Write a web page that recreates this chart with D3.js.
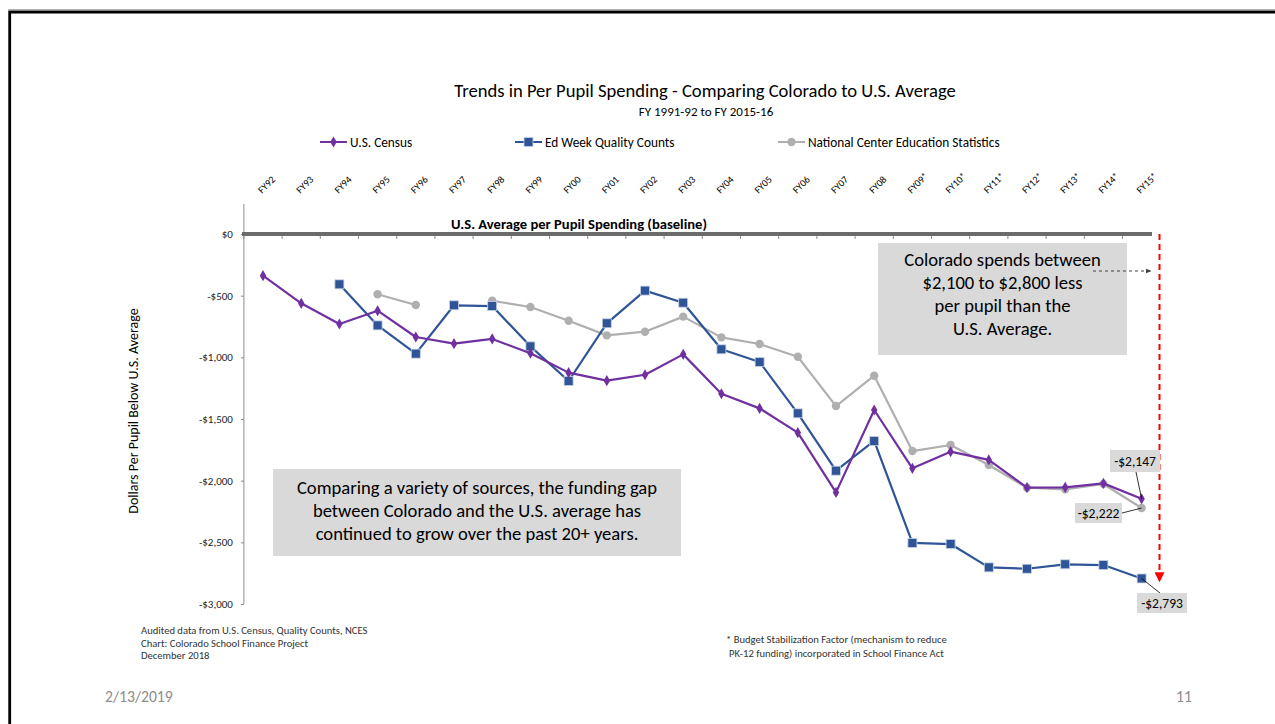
<!DOCTYPE html>
<html>
<head>
<meta charset="utf-8">
<script src="https://cdn.jsdelivr.net/npm/d3@7"></script>
<style>
  html, body { margin: 0; padding: 0; background: #fff; }
  svg { display: block; }
  text { font-family: Carlito, Calibri, Lato, "Open Sans", sans-serif; }
</style>
</head>
<body>
<svg id="chart" width="1275" height="724"></svg>
<script>
// Fiscal years (x categories)
const fiscalYears = ["FY92","FY93","FY94","FY95","FY96","FY97","FY98","FY99","FY00","FY01","FY02","FY03",
  "FY04","FY05","FY06","FY07","FY08","FY09*","FY10*","FY11*","FY12*","FY13*","FY14*","FY15*"];

// Colorado minus U.S. average, dollars per pupil
const censusGap = [-338,-562,-730,-622,-835,-889,-851,-967,-1124,-1189,-1141,-976,
  -1295,-1414,-1611,-2095,-1427,-1900,-1765,-1832,-2057,-2054,-2022,-2147];
const edWeekGap = [null,null,-408,-741,-970,-578,-584,-911,-1192,-724,-459,-557,
  -935,-1038,-1454,-1919,-1678,-2505,-2514,-2703,-2714,-2678,-2684,-2793];
const ncesGap = [null,null,null,-489,-576,null,-541,-592,-703,-822,-792,-670,
  -838,-892,-995,-1395,-1149,-1760,-1711,-1873,-2057,-2070,-2027,-2222];

const yTicks = [0,-500,-1000,-1500,-2000,-2500,-3000];

const seriesList = [
  { name: "U.S. Census", values: censusGap, color: "#7030A0", marker: "diamond" },
  { name: "Ed Week Quality Counts", values: edWeekGap, color: "#2F5597", marker: "square" },
  { name: "National Center Education Statistics", values: ncesGap, color: "#AFAFAF", marker: "circle" }
];

const svg = d3.select("#chart");

// slide frame
svg.append("line").attr("x1", 8).attr("x2", 1275).attr("y1", 9.5).attr("y2", 9.5)
  .attr("stroke", "#b5b5b5").attr("stroke-width", 1);
svg.append("path").attr("d", "M9.7,724 V12 H1275")
  .attr("fill", "none").attr("stroke", "#000").attr("stroke-width", 2.8);

const x = d3.scaleBand().domain(fiscalYears).range([243.9, 1160.7]);
const y = d3.scaleLinear().domain([-3000, 0]).range([604, 234]);
const cx = d => x(d) + x.bandwidth() / 2;

// titles
svg.append("text").attr("x", 705).attr("y", 97).attr("text-anchor", "middle")
  .attr("font-size", 18.6).attr("fill", "#000")
  .text("Trends in Per Pupil Spending - Comparing Colorado to U.S. Average");
svg.append("text").attr("x", 706).attr("y", 115.5).attr("text-anchor", "middle")
  .attr("font-size", 13).attr("fill", "#000")
  .text("FY 1991-92 to FY 2015-16");

// legend
const legendPos = [320, 515, 778];
seriesList.forEach((s, i) => {
  const g = svg.append("g").attr("transform", `translate(${legendPos[i]},142)`);
  g.append("line").attr("x1", 0).attr("x2", 27).attr("stroke", s.color).attr("stroke-width", 2);
  drawMarker(g, 13.5, 0, s);
  g.append("text").attr("x", 30).attr("y", 4.5).attr("font-size", 13.3).attr("fill", "#000").text(s.name);
});

// y axis
const yAxis = d3.axisLeft(y).tickValues(yTicks).tickSize(3).tickPadding(8)
  .tickFormat(d => (d < 0 ? "-" : "") + "$" + d3.format(",")(Math.abs(d)));
const yg = svg.append("g").attr("transform", "translate(243.9,0)").call(yAxis);
yg.select(".domain").remove();
yg.selectAll(".tick line").attr("stroke", "#8c8c8c");
yg.selectAll(".tick text").attr("font-size", 11).attr("fill", "#222")
  .style("font-family", "Carlito, Calibri, Lato, sans-serif");
svg.append("line").attr("x1", 243.9).attr("x2", 243.9).attr("y1", y(0) - 30).attr("y2", y(-3000))
  .attr("stroke", "#8c8c8c").attr("stroke-width", 1);

svg.append("text").attr("transform", `translate(138,${(y(0) + y(-3000)) / 2 - 8}) rotate(-90)`)
  .attr("text-anchor", "middle").attr("font-size", 14).attr("fill", "#000")
  .text("Dollars Per Pupil Below U.S. Average");

// x tick marks along the baseline
const xAxis = d3.axisBottom(x).tickSize(5).tickFormat("");
const xg = svg.append("g").attr("transform", `translate(0,${y(0)})`).call(xAxis);
xg.select(".domain").remove();
xg.selectAll(".tick line").attr("stroke", "#8c8c8c")
  .attr("transform", `translate(${-x.bandwidth() / 2},0)`);

// rotated category labels above the plot
svg.append("g").selectAll("text").data(fiscalYears).join("text")
  .attr("transform", d => `translate(${cx(d) - 1},194) rotate(-45)`)
  .attr("font-size", 10).attr("fill", "#000")
  .text(d => d);

// baseline
svg.append("line").attr("x1", 242).attr("x2", 1152).attr("y1", y(0)).attr("y2", y(0))
  .attr("stroke", "#6b6b6b").attr("stroke-width", 4);
svg.append("text").attr("x", 707).attr("y", 228.5).attr("text-anchor", "end")
  .attr("font-size", 14.6).attr("font-weight", "bold").attr("fill", "#000")
  .text("U.S. Average per Pupil Spending (baseline)");

// annotation boxes
function noteBox(x0, y0, w, h, lines, lineH, firstY) {
  svg.append("rect").attr("x", x0).attr("y", y0).attr("width", w).attr("height", h).attr("fill", "#D9D9D9");
  lines.forEach((t, i) => {
    svg.append("text").attr("x", x0 + w / 2).attr("y", firstY + i * lineH).attr("text-anchor", "middle")
      .attr("font-size", 18.6).attr("fill", "#000").text(t);
  });
}
noteBox(878, 243, 249, 112,
  ["Colorado spends between", "$2,100 to $2,800 less", "per pupil than the", "U.S. Average."], 23, 265.5);
noteBox(273, 469, 408, 87,
  ["Comparing a variety of sources, the funding gap", "between Colorado and the U.S. average has",
   "continued to grow over the past 20+ years."], 23, 493.5);

// arrow heads
const defs = svg.append("defs");
defs.append("marker").attr("id", "arrowGray").attr("viewBox", "0 0 10 10").attr("refX", 9).attr("refY", 5)
  .attr("markerWidth", 6).attr("markerHeight", 6).attr("orient", "auto")
  .append("path").attr("d", "M0,1 L10,5 L0,9 Z").attr("fill", "#404040");
defs.append("marker").attr("id", "arrowRed").attr("viewBox", "0 0 10 10").attr("refX", 9).attr("refY", 5)
  .attr("markerWidth", 5).attr("markerHeight", 5).attr("orient", "auto")
  .append("path").attr("d", "M0,0 L10,5 L0,10 Z").attr("fill", "#FF0000");

svg.append("line").attr("x1", 1093).attr("x2", 1151).attr("y1", 271).attr("y2", 271)
  .attr("stroke", "#404040").attr("stroke-width", 1).attr("stroke-dasharray", "3,3")
  .attr("marker-end", "url(#arrowGray)");
svg.append("line").attr("x1", 1159.5).attr("x2", 1159.5).attr("y1", y(0)).attr("y2", y(-2800) + 2)
  .attr("stroke", "#FF0000").attr("stroke-width", 2).attr("stroke-dasharray", "6,4")
  .attr("marker-end", "url(#arrowRed)");

// series lines and markers
function drawMarker(g, px, py, s) {
  if (s.marker === "diamond") {
    g.append("path").attr("d", d3.symbol(d3.symbolDiamond, 36)())
      .attr("transform", `translate(${px},${py})`).attr("fill", s.color);
  } else if (s.marker === "square") {
    g.append("rect").attr("x", px - 4.5).attr("y", py - 4.5).attr("width", 9).attr("height", 9)
      .attr("fill", s.color).attr("stroke", "#c9d3e6").attr("stroke-width", 0.8);
  } else {
    g.append("circle").attr("cx", px).attr("cy", py).attr("r", 4.2).attr("fill", s.color);
  }
}

const line = d3.line().defined(d => d.v != null).x(d => cx(d.fy)).y(d => y(d.v));
seriesList.slice().reverse().forEach(s => {
  const pts = fiscalYears.map((fy, i) => ({ fy, v: s.values[i] }));
  const g = svg.append("g");
  g.append("path").datum(pts).attr("d", line).attr("fill", "none")
    .attr("stroke", s.color).attr("stroke-width", 2.2).attr("stroke-linejoin", "round");
  pts.filter(p => p.v != null).forEach(p => drawMarker(g, cx(p.fy), y(p.v), s));
});

// value labels on the final year
const lastFY = fiscalYears[fiscalYears.length - 1];
const fmt = v => "-$" + d3.format(",")(Math.abs(v));
const valueLabels = [
  { v: censusGap[censusGap.length - 1], bx: 1110, by: 450, w: 50, h: 22, lx: 1136, ly: 472 },
  { v: ncesGap[ncesGap.length - 1], bx: 1075, by: 503, w: 47, h: 20, lx: 1122, ly: 513 },
  { v: edWeekGap[edWeekGap.length - 1], bx: 1137, by: 593, w: 50, h: 20, lx: 1160, ly: 593 }
];
valueLabels.forEach(l => {
  svg.append("line").attr("x1", cx(lastFY)).attr("y1", y(l.v)).attr("x2", l.lx).attr("y2", l.ly)
    .attr("stroke", "#000").attr("stroke-width", 0.8);
  svg.append("rect").attr("x", l.bx).attr("y", l.by).attr("width", l.w).attr("height", l.h).attr("fill", "#D9D9D9");
  svg.append("text").attr("x", l.bx + l.w / 2).attr("y", l.by + l.h / 2 + 4.8).attr("text-anchor", "middle")
    .attr("font-size", 13.5).attr("fill", "#000").text(fmt(l.v));
});

// footnotes
const sourceLines = ["Audited data from U.S. Census, Quality Counts, NCES", "Chart: Colorado School Finance Project", "December 2018"];
sourceLines.forEach((t, i) => svg.append("text").attr("x", 141).attr("y", 634 + i * 12.5)
  .attr("font-size", 10.6).attr("fill", "#333").text(t));
const starLines = ["* Budget Stabilization Factor (mechanism to reduce", "PK-12 funding) incorporated in School Finance Act"];
starLines.forEach((t, i) => svg.append("text").attr("x", i ? 729 : 726).attr("y", 643 + i * 13.5)
  .attr("font-size", 10.6).attr("fill", "#333").text(t));

svg.append("text").attr("x", 105).attr("y", 701.5).attr("font-size", 15.7).attr("fill", "#8c8c8c").text("2/13/2019");
svg.append("text").attr("x", 1176).attr("y", 701.5).attr("font-size", 15.7).attr("fill", "#8c8c8c").text("11");
</script>
</body>
</html>
